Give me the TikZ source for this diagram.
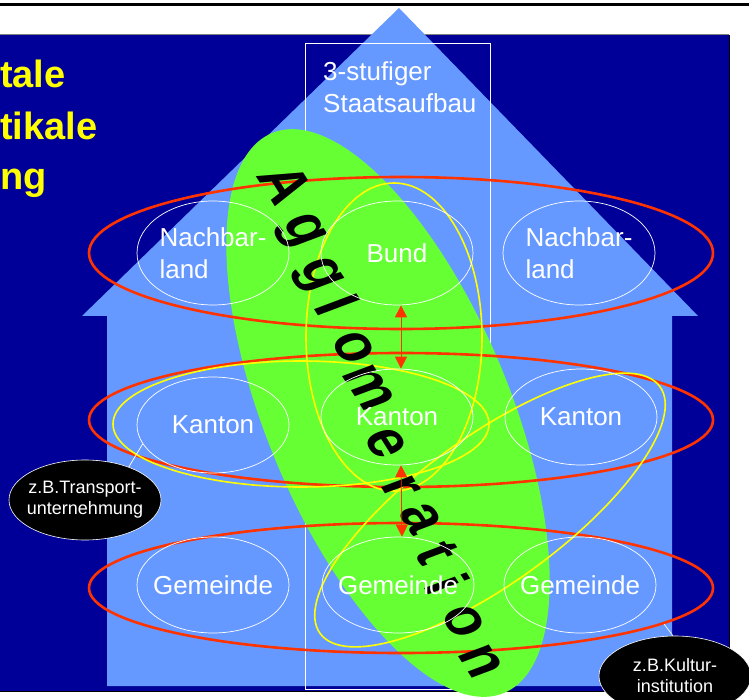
\documentclass[tikz,border=0pt]{standalone}
\usepackage{fontspec}
\setmainfont{Liberation Sans}
\usetikzlibrary{shapes.geometric,arrows.meta}
\definecolor{bgblue}{HTML}{000099}
\definecolor{house}{HTML}{6699FF}
\definecolor{agg}{HTML}{66FF33}
\definecolor{redl}{HTML}{FF3300}
\definecolor{yell}{HTML}{FFFF00}
\begin{document}
\begin{tikzpicture}[x=1pt,y=-1pt,
  lvl/.style={ellipse, draw=white, line width=0.7pt, minimum width=152pt, minimum height=96pt, inner xsep=-20pt, inner ysep=0pt, text=white, font=\fontsize{26}{32}\selectfont, align=left},
  toplvl/.style={lvl, minimum height=104pt},
  note/.style={ellipse, fill=black, draw=white, line width=0.6pt, minimum width=152pt, minimum height=80pt, inner xsep=-15pt, inner ysep=0pt, text=white, font=\fontsize{18}{21}\selectfont, align=center},
  ring/.style={redl, line width=2.6pt},
  loopy/.style={yell, line width=1.6pt},
  aggl/.style={font=\fontsize{50}{50}\selectfont\bfseries, xscale=1.3, rotate=-64, inner sep=0pt, text=black},
  lr/.style={redl, line width=0.8pt, {Triangle[width=12pt,length=12pt]}-{Triangle[width=12pt,length=12pt]}},
  sidetxt/.style={text=yell, font=\fontsize{38}{38}\selectfont\bfseries, anchor=base west, inner sep=0pt}
]
\useasboundingbox (0,0) rectangle (749,700);
\fill[white] (0,0) rectangle (749,700);
% top rule
\draw[line width=3pt] (0,5) -- (749,5);
% background
\fill[bgblue] (0,35) rectangle (729,691);
\draw[gray, line width=1pt] (0,35) -- (729,35);
\draw[black, line width=1pt] (729,35) -- (729,691) -- (0,691);
% house
\fill[house] (399,8) -- (698,316) -- (672,316) -- (672,686) -- (107,686) -- (107,316) -- (82,316) -- cycle;
% frame
\draw[white, line width=0.8pt] (305,43) rectangle (490,689);
\node[anchor=north west, inner sep=0pt, text=white, font=\fontsize{26}{32}\selectfont, align=left] (stufen) at (323,61) {3-stufiger\\Staatsaufbau};
% side text
\node[sidetxt] (t1) at (0,88) {tale};
\node[sidetxt] (t2) at (0,140) {tikale};
\node[sidetxt] (t3) at (0,190) {ng};
% agglomeration
\fill[agg, rotate around={-67.5:(388,413)}] (388,413) ellipse [x radius=303pt, y radius=122pt];
% red rings
\draw[ring] (401,253) ellipse [x radius=312pt, y radius=76pt];
\draw[ring] (401,420) ellipse [x radius=312pt, y radius=67pt];
\draw[ring] (401,588) ellipse [x radius=312pt, y radius=65pt];
% yellow loops
\draw[loopy] (394,337) ellipse [x radius=88pt, y radius=154pt];
\draw[loopy] (301,424) ellipse [x radius=188pt, y radius=63pt];
\draw[loopy, rotate around={36:(490,510)}] (490,510) ellipse [x radius=210pt, y radius=73pt];
% letters
\node[aggl] (a1) at (286,184) {A};
\node[aggl] (a2) at (300,232) {g};
\node[aggl] (a3) at (317,276) {g};
\node[aggl] (a4) at (338,305) {l};
\node[aggl] (a5) at (354,347) {o};
\node[aggl] (a6) at (369,388) {m};
\node[aggl] (a7) at (386,443) {e};
\node[aggl] (a8) at (401,487) {r};
\node[aggl] (a9) at (421,518) {a};
\node[aggl] (a10) at (437,553) {t};
\node[aggl] (a11) at (448,584) {i};
\node[aggl] (a12) at (464,621) {o};
\node[aggl] (a13) at (481,661) {n};
% level nodes
\node[toplvl] (nl) at (213,253) {Nachbar-\\land};
\node[toplvl] (bund) at (397,253) {Bund};
\node[toplvl] (nr) at (579,253) {Nachbar-\\land};
\node[lvl] (kl) at (213,425) {Kanton};
\node[lvl] (kc) at (397,417) {Kanton};
\node[lvl] (kr) at (581,417) {Kanton};
\node[lvl] (gl) at (213,585) {Gemeinde};
\node[lvl] (gc) at (398,585) {Gemeinde};
\node[lvl] (gr) at (580,585) {Gemeinde};
% arrows
\draw[lr] ([xshift=4pt]bund.south) -- ([xshift=4pt]kc.north);
\draw[lr] ([xshift=4pt]kc.south) -- ([xshift=4pt]gc.north);
% notes
\node[note] (trans) at (85,500) {z.B.Transport-\\unternehmung};
\node[note] (kult) at (675,676) {z.B.Kultur-\\institution};
\coordinate (kt) at (664,624);
\draw[white, line width=0.7pt] (trans.37) -- (kl.195);
\draw[white, line width=0.7pt] (kult.93) -- (kt);
\end{tikzpicture}
\end{document}
